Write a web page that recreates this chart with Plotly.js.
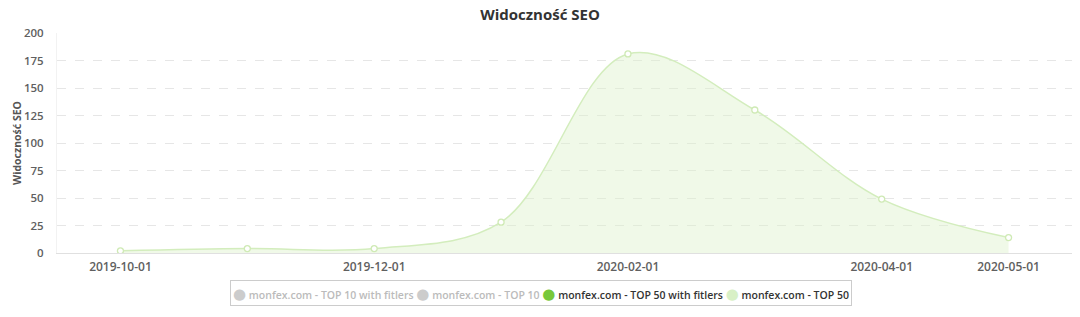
<!DOCTYPE html>
<html>
<head>
<meta charset="utf-8">
<script src="https://cdn.plot.ly/plotly-3.0.1.min.js"></script>
<style>html,body{margin:0;padding:0;background:#fff;}#chart{width:1080px;height:317px;}</style>
</head>
<body>
<div id="chart"></div>
<script>
const months = ['2019-10-01','2019-11-01','2019-12-01','2020-01-01','2020-02-01','2020-03-01','2020-04-01','2020-05-01'];
const tickLabels = ['2019-10-01','2019-12-01','2020-02-01','2020-04-01','2020-05-01'];
const top50 = [2, 4, 4, 28, 181, 130, 49, 14];
const seriesNames = ['monfex.com - TOP 10 with fitlers','monfex.com - TOP 10','monfex.com - TOP 50 with fitlers','monfex.com - TOP 50'];
const seriesVisible = [false, false, true, true];
const seriesColors = ['#cccccc','#cccccc','#78c83a','#d8f0c6'];

const fontFam = '"Open Sans", "DejaVu Sans", sans-serif';

const traces = [
  {name: seriesNames[3], x: months, y: top50, type:'scatter', mode:'lines+markers', showlegend:false,
   line:{color:'#d3edbd', width:1.5, shape:'spline', smoothing:1},
   fill:'tozeroy', fillcolor:'rgba(222,242,205,0.45)',
   marker:{color:'#ffffff', size:6, line:{color:'#cfeab5', width:1.3}}}
];

// legend built as one boxed text line
const legendParts = seriesNames.map((n, i) => {
  const txtColor = seriesVisible[i] ? '#333333' : '#bbbbbb';
  return '<span style="color:' + seriesColors[i] + ';font-size:15px">●</span>&nbsp;<span style="color:' + txtColor + '">' + n + '</span>';
});
const legendText = legendParts.join('&nbsp;');

const layout = {
  width:1080, height:317,
  margin:{l:57, r:8, t:33, b:64},
  paper_bgcolor:'#ffffff', plot_bgcolor:'#ffffff',
  font:{family:fontFam, color:'#666666', size:11},
  title:{text:'Widoczność SEO', x:0.5, xanchor:'center', y:0.953, yanchor:'middle', yref:'container',
         font:{family:fontFam, size:15, weight:700, color:'#333333'}},
  xaxis:{type:'category', range:[-0.5, 7.5], tickmode:'array', tickvals:tickLabels, ticktext:tickLabels,
         showgrid:false, showline:true, linecolor:'#e0e0e0', linewidth:1, ticks:'', zeroline:false,
         ticklabelstandoff:3,
         tickfont:{family:fontFam, size:12, weight:600, color:'#606060'}, fixedrange:true},
  yaxis:{range:[0,200], tick0:0, dtick:25, showgrid:true, gridcolor:'#e6e6e6', griddash:'dash', gridwidth:1,
         zeroline:false, showline:true, linecolor:'#f2f2f2', ticks:'', ticklabelstandoff:10,
         tickfont:{family:fontFam, size:11.5, weight:600, color:'#606060'},
         title:{text:'Widoczność SEO', standoff:0, font:{family:fontFam, size:10.5, weight:700, color:'#555555'}}},
  showlegend:false,
  annotations:[{
    text: legendText, xref:'paper', yref:'paper', x:0.4768, y:-0.18, xanchor:'center', yanchor:'middle',
    showarrow:false, bordercolor:'#cccccc', borderwidth:1, borderpad:2, bgcolor:'#ffffff',
    font:{family:fontFam, size:10.5, weight:600, color:'#333333'}
  }],
  hovermode:false
};

Plotly.newPlot('chart', traces, layout, {displayModeBar:false, staticPlot:true});
</script>
</body>
</html>
